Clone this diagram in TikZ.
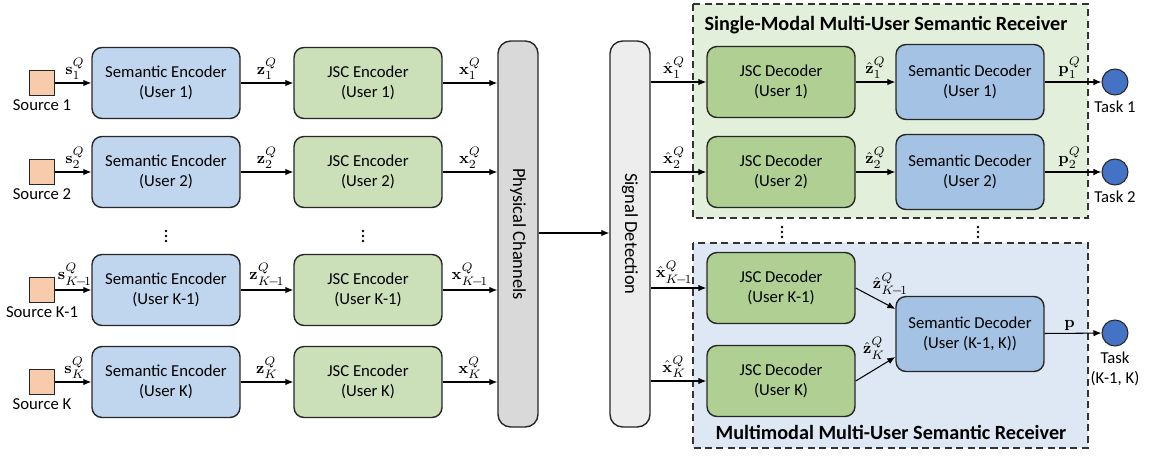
\documentclass[tikz,border=0pt]{standalone}
\usepackage{amsmath}
\usepackage{amssymb}
\usepackage[no-math]{fontspec}
\setmainfont{Carlito}
\usetikzlibrary{arrows.meta,positioning}

\definecolor{srcfill}{HTML}{F8CBAD}
\definecolor{encfill}{HTML}{C0D6EE}
\definecolor{jscencfill}{HTML}{CBDFB9}
\definecolor{jscdecfill}{HTML}{AFD092}
\definecolor{decfill}{HTML}{A4C2E3}
\definecolor{taskfill}{HTML}{4472C4}
\definecolor{singlebg}{HTML}{E2EFDA}
\definecolor{multibg}{HTML}{DEE8F4}

\tikzset{
  blk/.style={draw=black!85, line width=0.8pt, rounded corners=0.2cm, align=center,
    minimum width=2.96cm, minimum height=1.42cm, font=\fontsize{9.5}{11.5}\selectfont},
  srcbox/.style={draw=black!85, line width=0.6pt, fill=srcfill, minimum size=0.5cm, inner sep=0pt},
  taskdot/.style={circle, draw=black!85, line width=0.6pt, fill=taskfill, minimum size=0.52cm, inner sep=0pt},
  chan/.style={draw=black!85, line width=0.8pt, rounded corners=0.25cm, rotate=-90,
    minimum width=7.72cm, minimum height=0.8cm, font=\fontsize{10.5}{12}\selectfont},
  rxbox/.style={draw=black!80, line width=0.8pt, dash pattern=on 4pt off 2.5pt},
  sig/.style={-{Latex[length=1.6mm,width=1.3mm]}, line width=0.6pt},
  lbl/.style={font=\fontsize{9.5}{11}\selectfont, inner sep=1.5pt},
  txt/.style={font=\fontsize{9.5}{11}\selectfont, align=center, inner sep=1pt},
  ttl/.style={font=\fontsize{11.5}{13}\selectfont\bfseries}
}
\newcommand{\km}{K\!-\!1}

\begin{document}
\begin{tikzpicture}[x=0.02cm, y=-0.02cm]
  \useasboundingbox (0,0) rectangle (1164,470);

  \draw[rxbox, fill=singlebg] (693,4) rectangle (1088,218);
  \draw[rxbox, fill=multibg] (693,243) rectangle (1088,448);
  \node[ttl] (ttop) at (886,25) {Single-Modal Multi-User Semantic Receiver};
  \node[ttl] (tbot) at (891,432) {Multimodal Multi-User Semantic Receiver};

  % rotated: north is the right side, south the left side
  \node[chan, fill=black!15] (phy) at (518,234) {Physical Channels};
  \node[chan, fill=black!7] (det) at (630,234) {Signal Detection};
  \draw[sig] (phy.north |- 0,233) -- (det.south |- 0,233);

  \foreach \i/\y/\usr/\k in {1/83/1/1, 2/172/2/2, 3/290/K-1/\km, 4/382/K/K} {
    \node[srcbox] (src\i) at (42,\y) {};
    \node[txt, below=1pt of src\i] (srclbl\i) {Source \usr};
    \node[blk, fill=encfill] (enc\i) at (166,\y) {Semantic Encoder\\(User \usr)};
    \node[blk, fill=jscencfill] (jsc\i) at (368,\y) {JSC Encoder\\(User \usr)};
    \draw[sig] (src\i) -- node[lbl, above, xshift=1pt] {$\mathbf{s}_{\k}^{Q}$} (enc\i);
    \draw[sig] (enc\i) -- node[lbl, above] {$\mathbf{z}_{\k}^{Q}$} (jsc\i);
    \draw[sig] (jsc\i) -- node[lbl, above] {$\mathbf{x}_{\k}^{Q}$} (jsc\i -| phy.south);
  }

  \foreach \i/\y/\usr/\k in {1/82/1/1, 2/172/2/2, 3/288/K-1/\km, 4/381/K/K} {
    \node[blk, fill=jscdecfill] (jdec\i) at (781,\y) {JSC Decoder\\(User \usr)};
    \draw[sig] (jdec\i -| det.north) -- node[lbl, above, xshift=-2.5pt] {$\hat{\mathbf{x}}_{\k}^{Q}$} (jdec\i);
  }

  \foreach \i in {1,2} {
    \node[blk, fill=decfill, minimum height=1.5cm] (sdec\i) at (970,\i*90-8) {Semantic Decoder\\(User \i)};
    \node[taskdot] (task\i) at (1115,\i*90-8) {};
    \node[txt, below=2pt of task\i] (tasklbl\i) {Task \i};
    \draw[sig] (jdec\i) -- node[lbl, above] {$\hat{\mathbf{z}}_{\i}^{Q}$} (sdec\i);
    \draw[sig] (sdec\i) -- node[lbl, above, xshift=-2pt] {$\mathbf{p}_{\i}^{Q}$} (task\i);
  }

  \node[blk, fill=decfill, minimum height=1.5cm] (sdecm) at (970,334) {Semantic Decoder\\(User (K-1, K))};
  \node[taskdot] (taskm) at (1115,333) {};
  \node[txt, below=2pt of taskm] (tasklblm) {Task\\(K-1, K)};
  \draw[sig] (jdec3.east) -- node[lbl, above, pos=0.7, xshift=4pt, yshift=2pt] {$\hat{\mathbf{z}}_{\km}^{Q}$} ([yshift=0.5cm]sdecm.west);
  \draw[sig] (jdec4.east) -- node[lbl, above, pos=0.55, xshift=-2pt, yshift=3pt] {$\hat{\mathbf{z}}_{K}^{Q}$} ([yshift=-0.46cm]sdecm.west);
  \draw[sig] (sdecm) -- node[lbl, above, xshift=-2pt] {$\mathbf{p}$} (taskm);

  % vertical dots between the rows
  \foreach \x/\y in {166/236, 363/236, 782/232, 978/232}
    \foreach \d in {-5,0,5}
      \fill (\x,\y+\d) circle (0.75pt);
\end{tikzpicture}
\end{document}
